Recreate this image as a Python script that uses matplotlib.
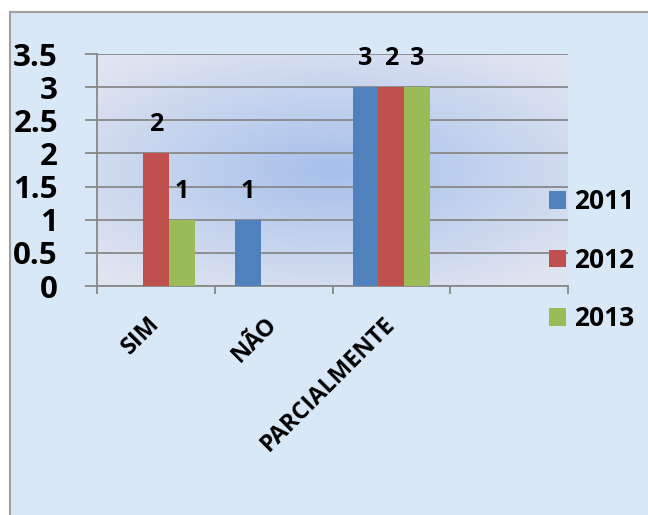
import numpy as np
import matplotlib
matplotlib.use('Agg')
import matplotlib.pyplot as plt
from matplotlib.colors import LinearSegmentedColormap
from matplotlib.patches import Rectangle

plt.rcParams['font.family'] = ['Open Sans', 'DejaVu Sans']
plt.rcParams['font.weight'] = 'bold'

# data
categories = ['SIM', 'NÃO', 'PARCIALMENTE', '']
years = ['2011', '2012', '2013']
vals_2011 = [0, 1, 3, 0]
vals_2012 = [2, 0, 3, 0]
vals_2013 = [1, 0, 3, 0]
# data labels as printed on the chart
lab_2011 = ['', '1', '3', '']
lab_2012 = ['2', '', '2', '']
lab_2013 = ['1', '', '3', '']
yticks = [0, 0.5, 1, 1.5, 2, 2.5, 3, 3.5]

colors = ['#4f81bd', '#c0504d', '#9bbb59']
grid_col = '#888888'

W, H = 648, 515
fig = plt.figure(figsize=(W / 100, H / 100), dpi=100)
fig.patch.set_facecolor('white')

# outer chart area (flat colour)
fig.patches.append(Rectangle((10 / W, -0.01), 1.0, 1 - 12 / H + 0.01,
                             transform=fig.transFigure, facecolor='#d9e8f7',
                             edgecolor='#a0a0a0', lw=1.5, zorder=-10))

ax = fig.add_axes([97 / W, 1 - 286 / H, 471 / W, 232 / H])
ax.set_facecolor('none')

# radial gradient for the plot area
gx, gy = np.meshgrid(np.linspace(-1, 1, 300), np.linspace(-1, 1, 200))
r = np.clip(np.sqrt(gx ** 2 + (gy * 1.1) ** 2) / 1.35, 0, 1)
cmap = LinearSegmentedColormap.from_list('pa', ['#a7c0ea', '#c3d2ee', '#e0e4f0'])
ax.imshow(r, cmap=cmap, extent=[0, 1, 0, 1], transform=ax.transAxes,
          aspect='auto', zorder=0, vmin=0, vmax=1)

x = np.arange(len(categories))
bw = 0.22
series = [vals_2011, vals_2012, vals_2013]
labels = [lab_2011, lab_2012, lab_2013]
for i, (vals, labs) in enumerate(zip(series, labels)):
    xs = x + (i - 1) * bw
    ax.bar(xs, vals, width=bw, color=colors[i], label=years[i], zorder=3)
    for xi, v, t in zip(xs, vals, labs):
        if t:
            ax.annotate(t, (xi, v), xytext=(0, 20.5), textcoords='offset points',
                        ha='center', va='center', fontsize=18, fontweight='bold')

ax.set_xlim(-0.5, len(categories) - 0.5)
ax.set_ylim(0, 3.5)
ax.set_yticks(yticks)
ax.set_yticklabels([f'{t:g}' for t in yticks])
ax.yaxis.grid(True, color=grid_col, lw=1.3, zorder=1)
ax.tick_params(axis='y', length=8.6, width=1.3, color=grid_col, pad=19.5,
               labelsize=22.5)

ax.set_xticks(x)
ax.set_xticklabels(categories, rotation=45, ha='right', rotation_mode='anchor',
                   va='center', fontsize=17, fontweight='bold')
ax.tick_params(axis='x', which='major', length=0, pad=25)
ax.set_xticks(np.arange(-0.5, len(categories)), minor=True)
ax.tick_params(axis='x', which='minor', length=6, width=1.3, color=grid_col)

for s in ['top', 'right']:
    ax.spines[s].set_visible(False)
for s in ['left', 'bottom']:
    ax.spines[s].set_color(grid_col)
    ax.spines[s].set_linewidth(1.3)

fig.legend(loc='upper left', bbox_to_anchor=(549 / W, 1 - 188 / H),
           frameon=False, handlelength=0.65, handleheight=0.65,
           handletextpad=0.3, labelspacing=1.2, borderpad=0, borderaxespad=0,
           prop={'weight': 'bold', 'size': 19})

fig.savefig('out.png', dpi=100)
